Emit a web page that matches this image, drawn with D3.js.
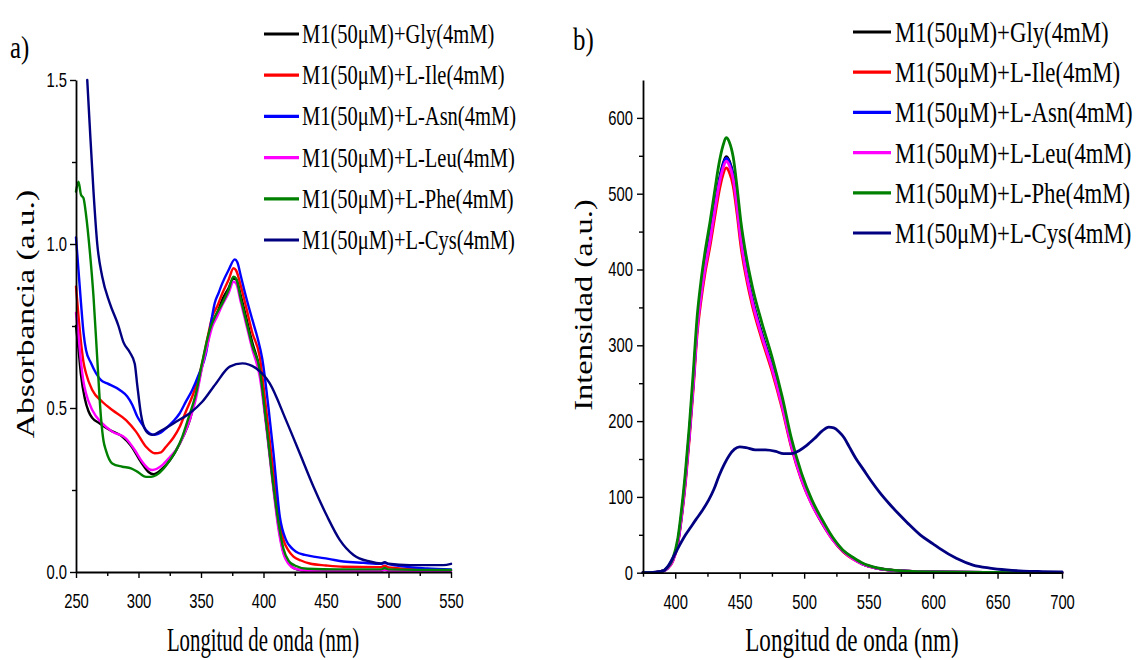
<!DOCTYPE html>
<html><head><meta charset="utf-8">
<script src="https://cdn.jsdelivr.net/npm/d3@7"></script>
<style>body{margin:0;background:#fff}svg{display:block}</style>
</head><body><svg id="c" width="1136" height="660"></svg>
<script>
// ---------- data ----------
const seriesNames = ["M1(50μM)+Gly(4mM)","M1(50μM)+L-Ile(4mM)","M1(50μM)+L-Asn(4mM)","M1(50μM)+L-Leu(4mM)","M1(50μM)+L-Phe(4mM)","M1(50μM)+L-Cys(4mM)"];
const seriesColors = ["#000000","#ff0000","#0000ff","#ff00ff","#008000","#000080"];

const absXTicks = [250,300,350,400,450,500,550];
const absXMinor = [275,325,375,425,475,525];
const absYTicks = [0,0.5,1.0,1.5];
const absYMinor = [0.25,0.75,1.25];
const emXTicks = [400,450,500,550,600,650,700];
const emXMinor = [375,425,475,525,575,625,675];
const emYTicks = [0,100,200,300,400,500,600];
const emYMinor = [50,150,250,350,450,550];

// absorbance (wavelength nm, absorbance a.u.)
const absGly = [[250,0.75],[252,0.68],[254,0.6],[257,0.53],[260,0.49],[263,0.47],[269,0.453],[277,0.433],[287,0.413],[294,0.385],[302,0.335],[308,0.305],[312,0.298],[319,0.315],[325,0.34],[330,0.37],[336,0.415],[341,0.463],[346,0.54],[351,0.63],[355,0.70],[359,0.758],[363,0.79],[367,0.83],[372,0.865],[376,0.895],[378,0.893],[382,0.84],[386,0.778],[391,0.70],[397,0.616],[402,0.46],[408,0.26],[412,0.14],[416,0.06],[420,0.03],[424,0.012],[430,0.005],[440,0.003],[460,0.003],[494,0.004],[497,0.007],[500,0.004],[550,0.004]];
const absIle = [[250,0.87],[252,0.78],[254,0.70],[256,0.64],[258,0.606],[263,0.555],[271,0.519],[279,0.494],[290,0.463],[298,0.428],[306,0.382],[313,0.362],[318,0.365],[322,0.382],[328,0.41],[333,0.443],[338,0.49],[343,0.535],[347,0.58],[351,0.637],[355,0.71],[359,0.778],[363,0.81],[367,0.849],[372,0.89],[376,0.926],[378,0.92],[382,0.87],[386,0.809],[391,0.73],[397,0.656],[402,0.50],[408,0.30],[412,0.18],[416,0.098],[420,0.065],[424,0.047],[430,0.035],[437,0.026],[450,0.02],[464,0.016],[494,0.015],[497,0.019],[500,0.014],[531,0.007],[550,0.005]];
const absAsn = [[250,1.02],[252,0.92],[254,0.82],[256,0.73],[258,0.677],[262,0.637],[266,0.606],[270,0.585],[275,0.575],[285,0.555],[291,0.535],[295,0.51],[299,0.474],[303,0.45],[306,0.433],[313,0.418],[318,0.425],[322,0.438],[328,0.46],[333,0.484],[338,0.52],[343,0.555],[348,0.60],[354,0.667],[358,0.76],[361,0.82],[364,0.85],[367,0.88],[372,0.92],[377,0.953],[379,0.945],[382,0.9],[386,0.839],[391,0.77],[395,0.717],[399,0.65],[404,0.50],[408,0.362],[413,0.17],[418,0.098],[422,0.075],[426,0.062],[433,0.052],[440,0.047],[452,0.04],[464,0.032],[480,0.028],[494,0.025],[497,0.028],[500,0.024],[531,0.011],[550,0.008]];
const absLeu = [[250,0.79],[252,0.72],[254,0.64],[256,0.58],[258,0.545],[263,0.494],[271,0.453],[279,0.428],[290,0.407],[297,0.372],[303,0.336],[308,0.315],[311,0.311],[319,0.326],[325,0.35],[330,0.372],[336,0.415],[341,0.463],[346,0.53],[351,0.626],[355,0.69],[359,0.748],[363,0.78],[367,0.814],[372,0.85],[376,0.885],[378,0.88],[382,0.82],[386,0.758],[391,0.68],[397,0.596],[402,0.45],[408,0.25],[412,0.13],[416,0.055],[420,0.025],[425,0.01],[435,0.004],[494,0.004],[497,0.007],[500,0.004],[550,0.003]];
const absPhe = [[250,1.16],[252,1.19],[254,1.15],[256,1.14],[258,1.09],[261,0.98],[264,0.84],[267,0.65],[270,0.47],[272,0.40],[274,0.37],[279,0.331],[287,0.321],[294,0.316],[299,0.306],[306,0.290],[310,0.29],[314,0.295],[320,0.315],[325,0.341],[330,0.37],[335,0.412],[340,0.47],[346,0.545],[351,0.64],[357,0.738],[362,0.785],[367,0.819],[372,0.86],[376,0.9],[378,0.895],[382,0.83],[386,0.768],[391,0.69],[397,0.616],[402,0.46],[408,0.26],[412,0.15],[416,0.07],[420,0.035],[425,0.02],[435,0.01],[460,0.008],[494,0.008],[497,0.012],[500,0.008],[550,0.006]];
const absCys = [[259,1.5],[261,1.36],[264,1.16],[267,1.0],[271,0.90],[277,0.82],[284,0.75],[288,0.70],[293,0.67],[297,0.635],[299,0.57],[302,0.48],[306,0.43],[311,0.418],[319,0.433],[330,0.458],[341,0.484],[351,0.519],[362,0.575],[373,0.626],[383,0.636],[394,0.621],[405,0.575],[418,0.463],[429,0.362],[440,0.26],[451,0.169],[461,0.098],[472,0.052],[485,0.032],[494,0.026],[497,0.03],[500,0.025],[517,0.021],[544,0.021],[550,0.025]];

// emission (wavelength nm, intensity a.u.)
const emGly = [[375,0],[385,0.5],[390,2],[394,6],[398,16],[402,40],[405,78],[408,126],[411,185],[414,252],[417,325],[420,370],[423,405],[427,443],[431,486],[434,517],[437,539],[439.5,549],[442,543],[445,524],[448,486],[451,442],[455,400],[460,360],[467,317],[475,273],[483,222],[490,170],[498,125],[506,92],[514,67],[522,45],[530,29],[538,19],[546,11],[555,6.5],[565,3.8],[580,2],[600,1],[650,0.3],[700,0]];
const emIle = [[375,0],[385,0.5],[390,2],[394,6],[398,15],[402,38],[405,74],[408,120],[411,178],[414,243],[417,315],[420,359],[423,394],[427,431],[431,473],[434,503],[437,525],[439.5,534],[442,528],[445,510],[448,473],[451,430],[455,390],[460,351],[467,309],[475,266],[483,216],[490,166],[498,122],[506,90],[514,65],[522,44],[530,28],[538,18],[546,11],[555,6.3],[565,3.7],[580,2],[600,1],[650,0.3],[700,0]];
const emAsn = [[375,0],[385,0.5],[390,2],[394,6],[398,16],[402,40],[405,77],[408,125],[411,184],[414,250],[417,323],[420,368],[423,403],[427,441],[431,484],[434,515],[437,537],[439.5,547],[442,541],[445,522],[448,484],[451,440],[455,398],[460,358],[467,315],[475,272],[483,221],[490,169],[498,124],[506,91],[514,66],[522,45],[530,29],[538,19],[546,11],[555,6.5],[565,3.8],[580,2],[600,1],[650,0.3],[700,0]];
const emLeu = [[375,0],[385,0.5],[390,2],[394,6],[398,15],[402,39],[405,76],[408,123],[411,182],[414,248],[417,320],[420,365],[423,400],[427,438],[431,481],[434,512],[437,533],[439.5,543],[442,537],[445,519],[448,481],[451,438],[455,396],[460,356],[467,313],[475,270],[483,219],[490,168],[498,123],[506,90],[514,66],[522,44],[530,29],[538,18],[546,11],[555,6.4],[565,3.8],[580,2],[600,1],[650,0.3],[700,0]];
const emPhe = [[375,0],[385,0.5],[390,2],[394,7],[398,18],[402,45],[405,85],[408,135],[411,195],[414,265],[417,338],[420,385],[423,422],[427,463],[431,508],[434,540],[437,563],[439.5,574],[442,568],[445,548],[448,508],[451,462],[455,418],[460,376],[467,331],[475,285],[483,232],[490,178],[498,131],[506,96],[514,70],[522,47],[530,30],[538,20],[546,12],[555,7],[565,4],[580,2],[600,1],[650,0.3],[700,0]];
const emCys = [[375,0],[383,0.5],[390,2],[395,10],[398,19],[403,35],[408,50],[412,60],[416,70],[421,82],[426,96],[430,110],[434,128],[438,143],[442,155],[446,163],[450,166],[455,165],[462,162],[470,162],[478,160],[484,157],[490,157],[496,161],[502,168],[508,177],[514,187],[519,192],[523,191],[527,186],[531,178],[535,166],[540,151],[546,136],[552,121],[559,105],[566,91],[573,78],[580,66],[590,50],[600,38],[605,32],[618,19],[631,10],[644,6],[657,3.6],[670,2.2],[685,1.5],[700,1]];

const absSeries = [absGly,absIle,absAsn,absLeu,absPhe,absCys];
const emSeries = [emGly,emIle,emAsn,emLeu,emPhe,emCys];

// ---------- drawing ----------
const svg = d3.select("#c");
const SERIF = "'Liberation Serif','Times New Roman',serif";
const SANS = "'Liberation Sans',Arial,sans-serif";

function squish(sel, sx){
  sel.each(function(){
    const t=d3.select(this);
    const x=+t.attr("x")||0, y=+t.attr("y")||0;
    t.attr("x",0).attr("y",0).attr("transform",`translate(${x},${y}) scale(${sx},1)`);
  });
}

function panel(cfg){
  const g = svg.append("g");
  const x = d3.scaleLinear().domain(cfg.xDom).range(cfg.xRange);
  const y = d3.scaleLinear().domain(cfg.yDom).range(cfg.yRange);
  const line = d3.line().x(d=>x(d[0])).y(d=>y(d[1])).curve(d3.curveMonotoneX);

  cfg.series.forEach((s,i)=>{
    g.append("path").datum(s).attr("d",line).attr("fill","none")
      .attr("stroke",seriesColors[i]).attr("stroke-width",cfg.lw)
      .attr("stroke-linejoin","round").attr("stroke-linecap","round");
  });

  const bottom = cfg.yRange[0], left = cfg.xRange[0];
  const gx = g.append("g").attr("transform",`translate(0,${bottom})`)
    .call(d3.axisBottom(x).tickValues(cfg.xTicks).tickSize(6).tickSizeOuter(0).tickPadding(16).tickFormat(d3.format("d")));
  g.append("g").attr("transform",`translate(0,${bottom})`)
    .call(d3.axisBottom(x).tickValues(cfg.xMinor).tickSize(4).tickSizeOuter(0).tickFormat(""))
    .select(".domain").remove();
  const gy = g.append("g").attr("transform",`translate(${left},0)`)
    .call(d3.axisLeft(y).tickValues(cfg.yTicks).tickSize(6).tickSizeOuter(0).tickPadding(cfg.yPad).tickFormat(cfg.yFmt));
  g.append("g").attr("transform",`translate(${left},0)`)
    .call(d3.axisLeft(y).tickValues(cfg.yMinor).tickSize(4).tickSizeOuter(0).tickFormat(""))
    .select(".domain").remove();

  g.selectAll(".domain").attr("stroke","#000").attr("stroke-width",1.8);
  g.selectAll(".tick line").attr("stroke","#000").attr("stroke-width",1.4);
  g.selectAll(".tick text").attr("font-family",SANS).attr("font-size",20).attr("fill","#000");
  squish(gx.selectAll(".tick text"),0.74);
  squish(gy.selectAll(".tick text"),0.74);

  g.append("text").attr("font-family",SERIF).attr("font-size",33).attr("text-anchor","middle")
    .attr("transform",`translate(${cfg.xTitle[0]},${cfg.xTitle[1]}) scale(${cfg.xTitleSx},1)`)
    .text("Longitud de onda (nm)");
  g.append("text").attr("font-family",SERIF).attr("font-size",cfg.yTitleFs).attr("text-anchor","middle")
    .attr("transform",`translate(${cfg.yTitle[0]},${cfg.yTitle[1]}) rotate(-90) scale(1,0.78)`)
    .text(cfg.yTitleText);

  g.append("text").attr("font-family",SERIF).attr("font-size",31)
    .attr("transform",`translate(${cfg.label[0]},${cfg.label[1]}) scale(0.8,1)`).text(cfg.labelText);

  const lg = g.append("g");
  seriesNames.forEach((n,i)=>{
    const yy = cfg.leg.y0 + i*cfg.leg.dy;
    lg.append("line").attr("x1",cfg.leg.x0).attr("x2",cfg.leg.x1).attr("y1",yy).attr("y2",yy)
      .attr("stroke",seriesColors[i]).attr("stroke-width",3.2);
    lg.append("text").attr("font-family",SERIF).attr("font-size",cfg.leg.fs)
      .attr("transform",`translate(${cfg.leg.tx},${yy+cfg.leg.base}) scale(${cfg.leg.sx},1)`).text(n);
  });
}

panel({
  xDom:[250,550], xRange:[76,451], yDom:[0,1.5], yRange:[572,80],
  series:absSeries, lw:2.4,
  xTicks:absXTicks, xMinor:absXMinor, yTicks:absYTicks, yMinor:absYMinor,
  yFmt:d3.format(".1f"), yPad:3,
  xTitle:[263,651], xTitleSx:0.63,
  yTitle:[34,314], yTitleFs:33.5, yTitleText:"Absorbancia (a.u.)",
  label:[10,58], labelText:"a)",
  leg:{x0:264,x1:299,tx:302,y0:34,dy:41.2,fs:27,sx:0.76,base:9}
});
panel({
  xDom:[375,700], xRange:[643,1062], yDom:[0,650], yRange:[572.7,80],
  series:emSeries, lw:2.8,
  xTicks:emXTicks, xMinor:emXMinor, yTicks:emYTicks, yMinor:emYMinor,
  yFmt:d3.format("d"), yPad:4,
  xTitle:[852,651], xTitleSx:0.70,
  yTitle:[592,305], yTitleFs:32.4, yTitleText:"Intensidad (a.u.)",
  label:[573,50], labelText:"b)",
  leg:{x0:853,x1:891,tx:895,y0:32,dy:40.2,fs:30,sx:0.76,base:10}
});
</script></body></html>
